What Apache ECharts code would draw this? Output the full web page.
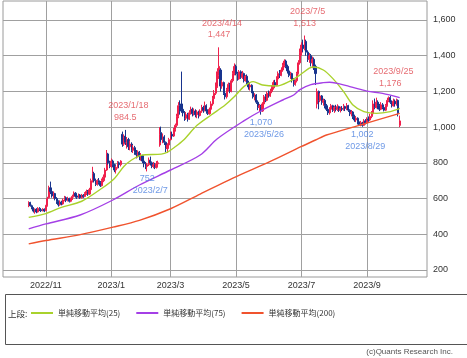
<!DOCTYPE html>
<html><head><meta charset="utf-8">
<script src="https://cdn.jsdelivr.net/npm/echarts@6/dist/echarts.min.js"></script>
<style>html,body{margin:0;padding:0;background:#fff}#c{width:467px;height:358px}</style>
</head><body><div id="c"></div>
<script>
// ---- categories: trading days per month ----
const monthDays = {
 '2022/10': [17,18,19,20,21,24,25,26,27,28,31],
 '2022/11': [1,2,4,7,8,9,10,11,14,15,16,17,18,21,22,24,25,28,29,30],
 '2022/12': [1,2,5,6,7,8,9,12,13,14,15,16,19,20,21,22,23,26,27,28,29,30],
 '2023/1': [4,5,6,10,11,12,13,16,17,18,19,20,23,24,25,26,27,30,31],
 '2023/2': [1,2,3,6,7,8,9,10,13,14,15,16,17,20,21,22,24,27,28],
 '2023/3': [1,2,3,6,7,8,9,10,13,14,15,16,17,20,22,23,24,27,28,29,30,31],
 '2023/4': [3,4,5,6,7,10,11,12,13,14,17,18,19,20,21,24,25,26,27,28],
 '2023/5': [1,2,8,9,10,11,12,15,16,17,18,19,22,23,24,25,26,29,30,31],
 '2023/6': [1,2,5,6,7,8,9,12,13,14,15,16,19,20,21,22,23,26,27,28,29,30],
 '2023/7': [3,4,5,6,7,10,11,12,13,14,18,19,20,21,24,25,26,27,28,31],
 '2023/8': [1,2,3,4,7,8,9,10,14,15,16,17,18,21,22,23,24,25,28,29,30,31],
 '2023/9': [1,4,5,6,7,8,11,12,13,14,15,19,20,21,22,25,26,27,28,29],
 '2023/10': [2,3]
};
const monthLabels = ['2022/11','2023/1','2023/3','2023/5','2023/7','2023/9'];
const yTicks = [200,400,600,800,1000,1200,1400,1600];

// ---- daily candles [open, close, low, high] ----
const candles = [
[560,578,552,585],[578,560,555,582],[560,548,540,566],[548,530,522,552],[530,540,515,545],
[540,525,518,546],[525,545,522,552],[545,538,530,552],[538,532,525,544],[532,540,528,546],
[540,530,524,545],[532,560,530,565],[560,600,555,610],[605,660,600,672],[660,640,625,695],
[640,615,605,650],[615,628,600,640],[628,600,590,632],[600,585,570,608],[585,565,555,590],
[565,580,560,590],[580,570,562,588],[570,592,566,600],[592,605,585,615],[605,590,580,612],
[590,600,584,610],[600,585,578,605],[585,598,580,606],[598,612,592,622],[612,630,606,640],
[630,615,605,636],[615,608,598,622],[608,620,602,628],[620,605,598,625],[605,618,600,626],
[618,612,604,625],[612,628,608,636],[628,640,620,650],[640,625,615,648],[625,650,620,660],
[650,700,645,712],[700,740,690,778],[740,700,690,750],[700,680,670,712],[680,700,672,708],
[700,690,678,715],[690,672,665,698],[672,700,668,712],[700,720,692,735],[720,760,715,772],
[760,850,755,872],[850,800,790,856],[800,780,770,812],[780,810,772,825],[810,790,775,818],
[790,760,748,795],[760,775,740,785],[775,800,768,810],[800,790,770,808],[790,810,780,815],
[960,905,890,975],[905,940,895,960],[950,915,900,984.5],[915,930,880,945],[930,890,872,940],
[890,905,870,925],[905,870,860,915],[870,885,855,900],[885,860,845,895],[860,845,825,872],
[845,860,830,870],[860,835,815,866],[835,840,812,855],[840,810,798,845],[810,795,775,818],
[795,780,765,805],[780,790,752,800],[790,815,782,830],[815,800,785,835],[800,780,770,808],
[780,790,770,805],[790,775,765,800],[775,795,768,810],[795,800,780,812],[900,960,890,1000],
[970,930,915,1003],[930,945,910,965],[945,915,900,955],[915,880,860,920],[880,900,855,910],
[900,930,890,940],[930,960,925,975],[960,950,935,975],[950,985,945,995],[985,1010,975,1020],
[1010,1060,1000,1075],[1060,1120,1050,1140],[1120,1090,1070,1150],[1130,1100,1080,1311],[1100,1080,1060,1120],
[1080,1050,1035,1090],[1050,1070,1040,1085],[1070,1045,1031,1080],[1045,1080,1040,1095],[1080,1100,1070,1115],
[1100,1075,1060,1110],[1075,1090,1065,1105],[1090,1070,1055,1100],[1070,1085,1050,1095],[1085,1065,1049,1092],
[1065,1090,1060,1100],[1090,1110,1080,1125],[1110,1095,1080,1120],[1095,1120,1088,1143],[1120,1090,1075,1128],
[1090,1075,1068,1100],[1075,1100,1070,1110],[1100,1130,1095,1145],[1130,1160,1120,1175],[1160,1190,1150,1208],
[1190,1230,1180,1250],[1230,1310,1220,1330],[1290,1340,1270,1447],[1320,1230,1200,1330],[1230,1250,1215,1262],
[1250,1190,1180,1255],[1190,1170,1155,1200],[1170,1210,1160,1220],[1210,1240,1200,1250],[1240,1200,1190,1248],
[1200,1260,1195,1270],[1260,1300,1250,1315],[1300,1340,1290,1357],[1340,1300,1290,1350],[1300,1270,1260,1310],
[1270,1310,1265,1320],[1310,1280,1270,1318],[1280,1300,1270,1315],[1300,1260,1250,1305],[1260,1285,1255,1292],
[1285,1250,1240,1295],[1250,1225,1210,1260],[1225,1235,1205,1245],[1235,1200,1190,1240],[1200,1170,1160,1210],
[1170,1180,1150,1190],[1180,1140,1130,1185],[1140,1110,1095,1150],[1110,1120,1085,1130],[1115,1090,1070,1125],
[1090,1130,1085,1140],[1130,1170,1120,1180],[1170,1150,1140,1185],[1150,1190,1145,1200],[1190,1175,1165,1205],
[1175,1200,1170,1215],[1200,1220,1190,1236],[1220,1250,1210,1262],[1250,1235,1225,1265],[1235,1270,1230,1285],
[1270,1300,1260,1312],[1300,1290,1275,1320],[1290,1320,1285,1335],[1320,1345,1310,1360],[1345,1370,1335,1380],
[1370,1340,1330,1378],[1340,1315,1300,1350],[1315,1290,1280,1325],[1290,1300,1270,1310],[1300,1265,1250,1305],
[1265,1240,1227,1275],[1240,1260,1232,1268],[1260,1300,1250,1310],[1300,1360,1295,1375],[1360,1420,1350,1440],
[1420,1460,1400,1475],[1460,1440,1420,1490],[1440,1480,1430,1513],[1480,1420,1400,1490],[1420,1380,1365,1430],
[1380,1400,1360,1415],[1400,1360,1340,1410],[1360,1380,1330,1395],[1380,1340,1320,1390],[1340,1300,1236,1350],
[1130,1200,1105,1217],[1200,1150,1100,1205],[1150,1175,1140,1190],[1175,1140,1125,1180],[1140,1150,1120,1160],
[1150,1120,1105,1158],[1120,1100,1090,1130],[1100,1080,1068,1110],[1080,1100,1070,1112],[1100,1120,1090,1130],
[1120,1095,1085,1125],[1095,1110,1080,1120],[1110,1100,1088,1125],[1100,1115,1090,1128],[1115,1095,1085,1120],
[1095,1105,1082,1115],[1105,1100,1090,1118],[1100,1115,1092,1130],[1115,1105,1090,1120],[1105,1120,1095,1135],
[1120,1095,1085,1125],[1095,1075,1062,1100],[1075,1085,1060,1096],[1085,1060,1045,1090],[1060,1040,1030,1070],
[1040,1050,1028,1062],[1050,1030,1015,1055],[1030,1015,1008,1040],[1015,1025,1005,1035],[1022,1010,1002,1030],
[1010,1035,1006,1045],[1035,1025,1015,1045],[1025,1045,1020,1055],[1045,1040,1030,1060],[1040,1060,1035,1075],
[1060,1075,1050,1090],[1075,1130,1070,1150],[1130,1110,1100,1160],[1110,1140,1105,1165],[1140,1120,1100,1150],
[1120,1100,1090,1130],[1100,1125,1095,1140],[1125,1110,1100,1135],[1110,1095,1088,1120],[1095,1120,1090,1130],
[1120,1150,1115,1165],[1150,1165,1140,1172],[1165,1140,1130,1176],[1140,1120,1110,1150],[1120,1145,1115,1160],
[1145,1130,1115,1155],[1130,1150,1120,1160],[1150,1080,1060,1155],[1010,1035,1000,1065]
];

// ---- moving averages [trading-day index, value] ----
const ma25 = [[0,495],[11,516],[21,551],[34,585],[47,658],[55,713],[61,780],[66,816],[72,842],[85,849],
 [89,860],[94,890],[99,925],[108,1010],[117,1068],[126,1124],[132,1171],[138,1227],[144,1255],[150,1236],
 [159,1230],[167,1255],[174,1292],[180,1330],[183,1337],[189,1320],[195,1273],[202,1199],[208,1124],
 [215,1087],[223,1077],[232,1087],[238,1105]];
const ma75 = [[0,430],[11,458],[33,508],[54,592],[71,676],[91,760],[110,844],[121,935],[138,1035],
 [150,1096],[163,1152],[170,1180],[174,1210],[181,1238],[189,1249],[193,1251],[206,1227],[217,1202],
 [227,1189],[238,1165]];
const ma200 = [[0,346],[11,365],[33,398],[54,440],[71,478],[91,543],[110,625],[131,715],[155,808],
 [175,892],[184,928],[191,956],[212,1010],[238,1077]];

// ---- annotations ----
const peakDates = ['2023/1/18','2023/4/14','2023/7/5','2023/9/25'];
const peakValues = [984.5,1447,1513,1176];
const peakTexts = ['984.5','1,447','1,513','1,176'];
const troughDates = ['2023/2/7','2023/5/26','2023/8/29'];
const troughValues = [752,1070,1002];
const troughTexts = ['752','1,070','1,002'];

const seriesNames = ['単純移動平均(25)','単純移動平均(75)','単純移動平均(200)'];

// ---- fonts ----
const FF = '"Liberation Sans", Arial, sans-serif';
const FS = 9;
const CJK = '"Noto Sans CJK JP", "Noto Sans", sans-serif';

// ---- build categories ----
const PAD_L = 16, PAD_R = 17;
const dates = [];
for (const m in monthDays) monthDays[m].forEach(d => dates.push(m + '/' + d));
const cats = [];
for (let i=0;i<PAD_L;i++) cats.push('L'+i);
dates.forEach(d => cats.push(d));
for (let i=0;i<PAD_R;i++) cats.push('R'+i);
const monthIdx = {};
monthLabels.forEach(m => { monthIdx[PAD_L + dates.indexOf(m + '/' + monthDays[m][0])] = m; });

const UP = '#f0204c', DOWN = '#18348e';
const RED_T = '#e0474f', BLUE_T = '#4a7fe0';

const annot = [];
peakDates.forEach((d,k) => {
  const x = PAD_L + dates.indexOf(d);
  annot.push({value:[x, peakValues[k]], label:{formatter:d, color:RED_T, offset:[3,-24]}});
  annot.push({value:[x, peakValues[k]], label:{formatter:peakTexts[k], color:RED_T, offset:[0,-12.5]}});
});
troughDates.forEach((d,k) => {
  const x = PAD_L + dates.indexOf(d);
  annot.push({value:[x, troughValues[k]], label:{formatter:d, color:BLUE_T, offset:[3,19.5]}});
  annot.push({value:[x, troughValues[k]], label:{formatter:troughTexts[k], color:BLUE_T, offset:[0,7.5]}});
});

const maColors = ['#a9d22c','#a43fe6','#f0532e'];
function maSeries(name, arr, color){
  return {name, type:'line', data: arr.map(p => [PAD_L + p[0], p[1]]), symbol:'none', smooth:0.3,
    lineStyle:{color, width:1.4}, itemStyle:{color}, z:3, silent:true, animation:false};
}

const chart = echarts.init(document.getElementById('c'), null, {renderer:'canvas'});
chart.setOption({
  animation:false,
  backgroundColor:'#fff',
  grid:{left:3, right:40, top:1, bottom:81, show:true, borderColor:'#9a9a9a', borderWidth:1, containLabel:false},
  xAxis:{type:'category', data:cats, boundaryGap:true,
    axisLine:{show:false}, axisTick:{show:false},
    axisLabel:{interval:(i)=> (i in monthIdx), formatter:(v,i)=> monthIdx[i] || '', color:'#333', fontFamily:FF, fontSize:FS, margin:4},
    splitLine:{show:true, interval:(i)=> (i in monthIdx), alignWithLabel:true, lineStyle:{color:'#a0a0a0', width:1}}},
  yAxis:{type:'value', position:'right', min:160.8, max:1706.4, scale:false,
    axisLine:{show:false}, axisTick:{show:false, customValues:yTicks},
    axisLabel:{customValues:yTicks, formatter:(v)=> v.toLocaleString('en-US'), color:'#333', fontFamily:FF, fontSize:FS, margin:6},
    splitLine:{show:true, lineStyle:{color:'#a0a0a0', width:1}}},
  legend:{data:seriesNames, left:31, top:309, padding:0, itemWidth:22, itemHeight:10, itemGap:16,
    textStyle:{fontFamily:CJK, fontSize:8, color:'#333'}, icon:'path://M0,4 L22,4 L22,6 L0,6 Z', selectedMode:false},
  graphic:[
    {type:'rect', left:3, top:292, shape:{width:462, height:50}, style:{fill:'none', stroke:'#555', lineWidth:1}},
    {type:'text', left:8, top:310, style:{text:'上段:', font:'8.5px ' + CJK, fill:'#333'}},
    {type:'text', right:14, top:348, style:{text:'(c)Quants Research Inc.', font:(FS-1) + 'px ' + FF, fill:'#555'}}
  ],
  series:[
    {type:'candlestick', name:'price', data: candles.map((c,i)=>[PAD_L+i, c[0], c[1], c[2], c[3]]),
     encode:{x:0, y:[1,2,3,4]}, barWidth:1.6,
     itemStyle:{color:UP, color0:DOWN, borderColor:UP, borderColor0:DOWN, borderWidth:1}, z:2, silent:true},
    maSeries(seriesNames[0], ma25, maColors[0]),
    maSeries(seriesNames[1], ma75, maColors[1]),
    maSeries(seriesNames[2], ma200, maColors[2]),
    {type:'scatter', data:annot, symbolSize:1, itemStyle:{color:'rgba(0,0,0,0)'}, silent:true, z:5,
     label:{show:true, position:'inside', fontFamily:FF, fontSize:FS}}
  ]
});
</script></body></html>
